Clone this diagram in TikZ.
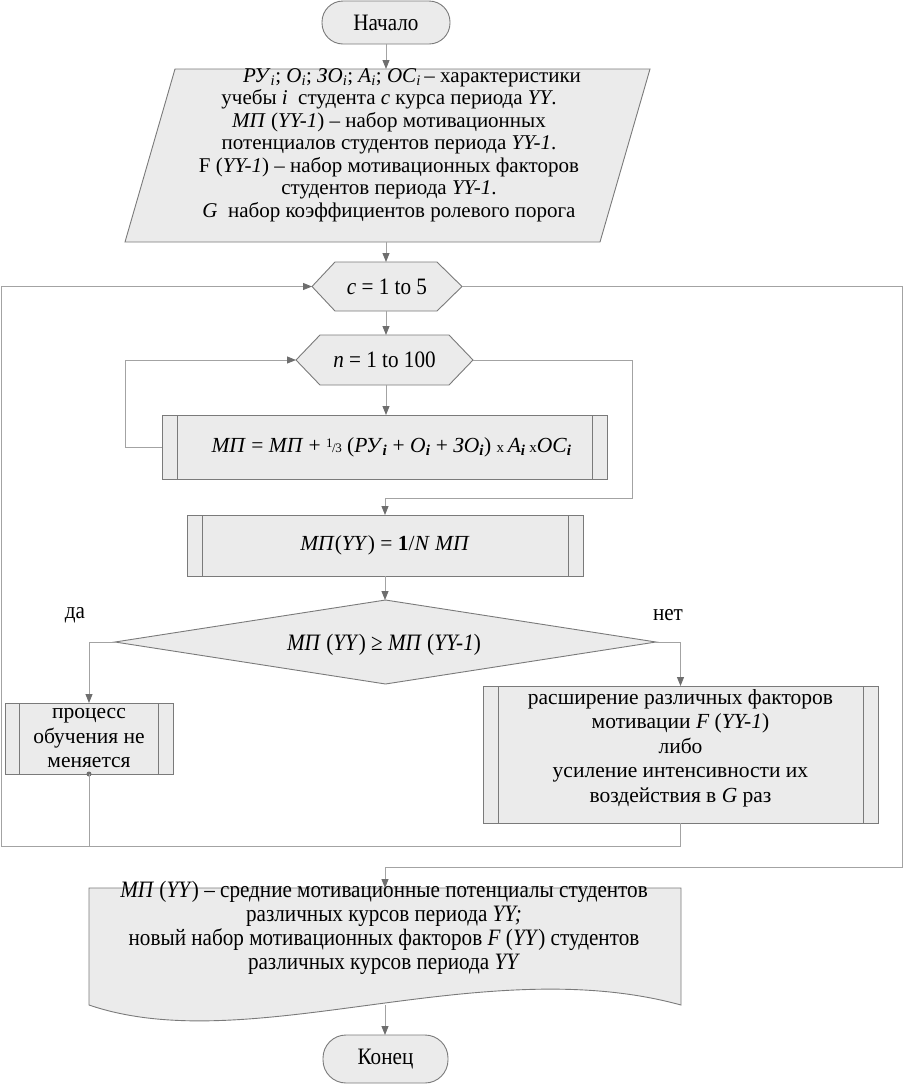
\documentclass[tikz,border=0pt]{standalone}
\usepackage{fontspec}
\setmainfont{Liberation Serif}
\newfontfamily\narrow[FakeStretch=0.9]{Liberation Serif}
\usetikzlibrary{arrows.meta,backgrounds}
\definecolor{shapefill}{HTML}{EBEBEB}
\definecolor{shapeline}{HTML}{7A7A7A}
\definecolor{connline}{HTML}{A3A3A3}
\definecolor{tipcol}{HTML}{6E6E6E}
\newcommand{\ii}{\textsubscript{\textit{i}}}
\newcommand{\bi}{\textsubscript{\textbf{\textit{i}}}}
\newcommand{\third}{{\fontsize{13}{13}\selectfont\raisebox{5pt}{1}\kern-0.5pt/\kern-0.5pt3}}
\newcommand{\smx}{{\fontsize{15}{15}\selectfont x}}
\tikzset{
  conn/.style={draw=connline, line width=0.9pt},
  arr/.style={conn, -{Triangle[width=7pt,length=9pt,color=tipcol]}},
  shp/.style={draw=shapeline, fill=shapefill, line width=0.9pt},
  holder/.style={rectangle, inner sep=0pt, outer sep=0pt},
  lbl/.style={inner sep=0pt, align=center},
  bx/.style={shp, rectangle, inner sep=0pt, outer sep=0pt, align=center},
  parfont/.style={font=\fontsize{21}{22.5}\selectfont},
  boxfont/.style={font=\fontsize{21.5}{24.5}\selectfont},
  narfont/.style={font=\narrow\fontsize{23.5}{24}\selectfont},
}
\begin{document}
\begin{tikzpicture}[x=1pt,y=-1pt]
\useasboundingbox (0,0) rectangle (903,1085);

% ---- terminals and boxes
\node[bx, rounded corners=21pt, minimum width=128pt, minimum height=43pt, narfont] (start) at (386,22.5) {Начало};

\node[holder, minimum width=525pt, minimum height=173pt] (par) at (387.5,155.5) {};
\node[holder, minimum width=150pt, minimum height=49pt] (hc) at (387,286.5) {};
\node[holder, minimum width=177pt, minimum height=50pt] (hn) at (384.5,360) {};
\node[bx, minimum width=445pt, minimum height=64pt, boxfont] (b1) at (384.5,447)
  {\hspace*{14pt}\textit{МП} = \textit{МП} + \third\ (\textit{РУ}\bi\ + \textit{О}\bi\ + \textit{ЗО}\bi) \smx\,\textit{А}\bi\,\smx\textit{ОС}\bi};
\node[bx, minimum width=396pt, minimum height=61pt, boxfont] (b2) at (385,545.5)
  {\textit{МП}(\textit{YY}) = \textbf{1}/\textit{N} \textit{МП}};
\node[holder, minimum width=541pt, minimum height=84pt] (dia) at (385.5,642) {};
\node[bx, minimum width=168pt, minimum height=71pt, boxfont] (lb) at (89,738.5)
  {процесс\\обучения не\\меняется};
\node[bx, minimum width=395pt, minimum height=137pt] (rb) at (680.5,754.5) {};
\node[holder, minimum width=592pt, minimum height=117pt] (doc) at (385,946.5) {};
\node[bx, rounded corners=23pt, minimum width=125pt, minimum height=48pt, narfont] (end) at (385.5,1059) {Конец};

% ---- shape outlines behind texts
\begin{scope}[on background layer]
  \path[shp] ([xshift=50pt]par.north west) -- (par.north east) -- ([xshift=-50pt]par.south east) -- (par.south west) -- cycle;
  \path[shp] (hc.west) -- ([xshift=23pt]hc.north west) -- ([xshift=-25pt]hc.north east) -- (hc.east)
     -- ([xshift=-25pt]hc.south east) -- ([xshift=23pt]hc.south west) -- cycle;
  \path[shp] (hn.west) -- ([xshift=24pt]hn.north west) -- ([xshift=-24pt]hn.north east) -- (hn.east)
     -- ([xshift=-24pt]hn.south east) -- ([xshift=24pt]hn.south west) -- cycle;
  \path[shp] (dia.west) -- (dia.north) -- (dia.east) -- (dia.south) -- cycle;
  \path[shp] (doc.north west) -- (doc.north east) -- (doc.south east)
     .. controls (480,950) and (250,1060) .. (doc.south west) -- cycle;
\end{scope}

% inner bars of the process boxes
\draw[shapeline, line width=0.9pt] ([xshift=15pt]b1.north west) -- ([xshift=15pt]b1.south west)
  ([xshift=-15pt]b1.north east) -- ([xshift=-15pt]b1.south east);
\draw[shapeline, line width=0.9pt] ([xshift=15pt]b2.north west) -- ([xshift=15pt]b2.south west)
  ([xshift=-15pt]b2.north east) -- ([xshift=-15pt]b2.south east);
\draw[shapeline, line width=0.9pt] ([xshift=14pt]lb.north west) -- ([xshift=14pt]lb.south west)
  ([xshift=-15pt]lb.north east) -- ([xshift=-15pt]lb.south east);
\draw[shapeline, line width=0.9pt] ([xshift=15pt]rb.north west) -- ([xshift=15pt]rb.south west)
  ([xshift=-15pt]rb.north east) -- ([xshift=-15pt]rb.south east);

% ---- texts
\node[lbl, parfont] (partext) at (389,145) {%
  \hspace*{46pt}\textit{РУ}\ii; \textit{О}\ii; \textit{ЗО}\ii; \textit{А}\ii; \textit{ОС}\ii\,– характеристики\\
  учебы \textit{i}\ \ студента \textit{с} курса периода \textit{YY}.\\
  \textit{МП} (\textit{YY-1}) – набор мотивационных\\
  потенциалов студентов периода \textit{YY-1}.\\
  F (\textit{YY-1}) – набор мотивационных факторов\\
  студентов периода \textit{YY-1}.\\
  \textit{G}\ \ набор коэффициентов ролевого порога};
\node[lbl, narfont] (hctext) at (hc) {\textit{c} = 1 to 5};
\node[lbl, narfont] (hntext) at (hn) {\textit{n} = 1 to 100};
\node[lbl, narfont] (diatext) at (384,645) {\textit{МП} (\textit{YY}) ≥ \textit{МП} (\textit{YY-1})};
\node[lbl, narfont] (yes) at (75,615) {да};
\node[lbl, narfont] (no) at (668,615) {нет};
\node[lbl, boxfont] (rbtext) at (680.5,748)
  {расширение различных факторов\\мотивации \textit{F} (\textit{YY-1})\\либо\\усиление интенсивности их\\воздействия в \textit{G} раз};
\node[lbl, narfont] (doctext) at (384,928)
  {\textit{МП} (\textit{YY}) – средние мотивационные потенциалы студентов\\
   различных курсов периода \textit{YY;}\\
   новый набор мотивационных факторов \textit{F} (\textit{YY}) студентов\\
   различных курсов периода \textit{YY}};

% ---- connectors
\coordinate (nR) at (632,498);
\coordinate (nL) at (125,360);
\coordinate (loopBL) at (1,846);
\coordinate (outR) at (902,867);

\draw[arr] (start.south) -- (start.south |- par.north);
\draw[arr] (start.south |- par.south) -- (start.south |- hc.north);
\draw[arr] (start.south |- hc.south) -- (start.south |- hn.north);
\draw[arr] (start.south |- hn.south) -- (start.south |- b1.north);
\draw[arr] (b1.west) -| (nL) -- (hn.west);
\draw[arr] (hn.east) -| (nR) -| (b2.north);
\draw[arr] (b2.south) -- (b2.south |- dia.north);
\draw[arr] (dia.west) -| (lb.north);
\draw[arr] (dia.east) -| (rb.north);
\fill[tipcol] (lb.south) circle (2.5pt);
\draw[arr] (lb.south) |- (loopBL) |- (hc.west);
\draw[conn] (rb.south) |- (lb.south |- loopBL);
\draw[arr] (hc.east) -| (outR) -| (doc.north);
\draw[arr] (doc.south) -- (doc.south |- end.north);
\end{tikzpicture}
\end{document}
